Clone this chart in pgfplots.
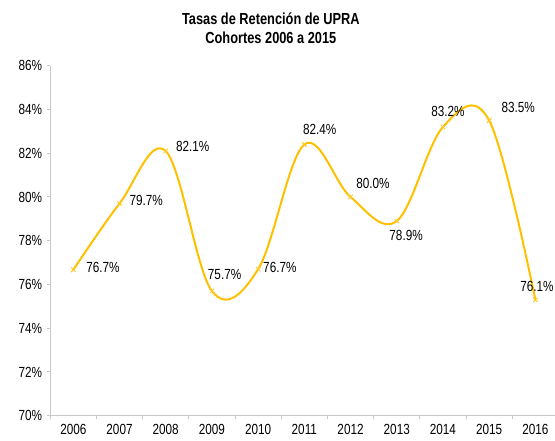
\documentclass[border=0pt]{standalone}
\usepackage{fontspec}
\setmainfont{Liberation Sans}[FakeStretch=0.8]
\usepackage{pgfplots}
\usepackage{pgfplotstable}
\pgfplotsset{compat=1.18}
\definecolor{gold}{HTML}{FFC000}
\definecolor{axisgray}{HTML}{C8C8C8}
\pgfplotstableread{
x y lab dx dy
0 76.67 76.7 22.3 2.0
1 79.7 79.7 20.0 2.0
2 82.1 82.1 20.3 3.5
3 75.7 75.7 9.5 12.8
4 76.7 76.7 16.3 1.5
5 82.4 82.4 11.5 11.3
6 80.0 80.0 16.8 10.5
7 78.9 78.9 7.0 -10.7
8 83.2 83.2 3.8 12.0
9 83.5 83.5 21.8 9.5
10 75.3 76.1 1.2 10.0
}\retention
\begin{document}
\begin{tikzpicture}
\path[use as bounding box, clip] (-37.65pt,-18.2pt) rectangle (378.6pt,311.8pt);
\begin{axis}[
  at={(0,0)}, anchor=south west,
  scale only axis, width=381.2pt, height=262.5pt,
  xmin=-0.5, xmax=10.5, ymin=70, ymax=86,
  axis lines*=left,
  axis line style={draw=axisgray, line width=0.75pt},
  xtick={-0.5,0.5,...,10.5},
  x tick label as interval,
  xticklabels={2006,2007,2008,2009,2010,2011,2012,2013,2014,2015,2016},
  ytick={70,72,...,86},
  yticklabel={\pgfmathprintnumber{\tick}\%},
  /pgf/number format/assume math mode=true,
  tick style={draw=axisgray, line width=0.75pt},
  tick align=outside, major tick length=2.5pt,
  tick label style={font=\fontsize{11}{13}\selectfont, text=black},
  clip=false,
]
\addplot[color=gold, line width=1.5pt, smooth, tension=0.6,
  mark=x, mark size=2.4pt, mark options={line width=0.7pt, color=gold!85},
  point meta=explicit,
  visualization depends on={\thisrow{dx} \as \labdx},
  visualization depends on={\thisrow{dy} \as \labdy},
  nodes near coords={\pgfmathprintnumber[fixed,precision=1,fixed zerofill,assume math mode=true]{\pgfplotspointmeta}\%},
  nodes near coords style={anchor=center, font=\fontsize{11}{13}\selectfont, text=black, xshift=\labdx pt, yshift=\labdy pt, inner sep=0pt},
] table[x=x, y=y, meta=lab] {\retention};
\end{axis}
\node[align=center, font=\bfseries\fontsize{12}{14.3}\selectfont, inner sep=0pt] at (165.5pt,290.9pt) {Tasas de Retención de UPRA\\Cohortes 2006 a 2015};
\end{tikzpicture}
\end{document}
